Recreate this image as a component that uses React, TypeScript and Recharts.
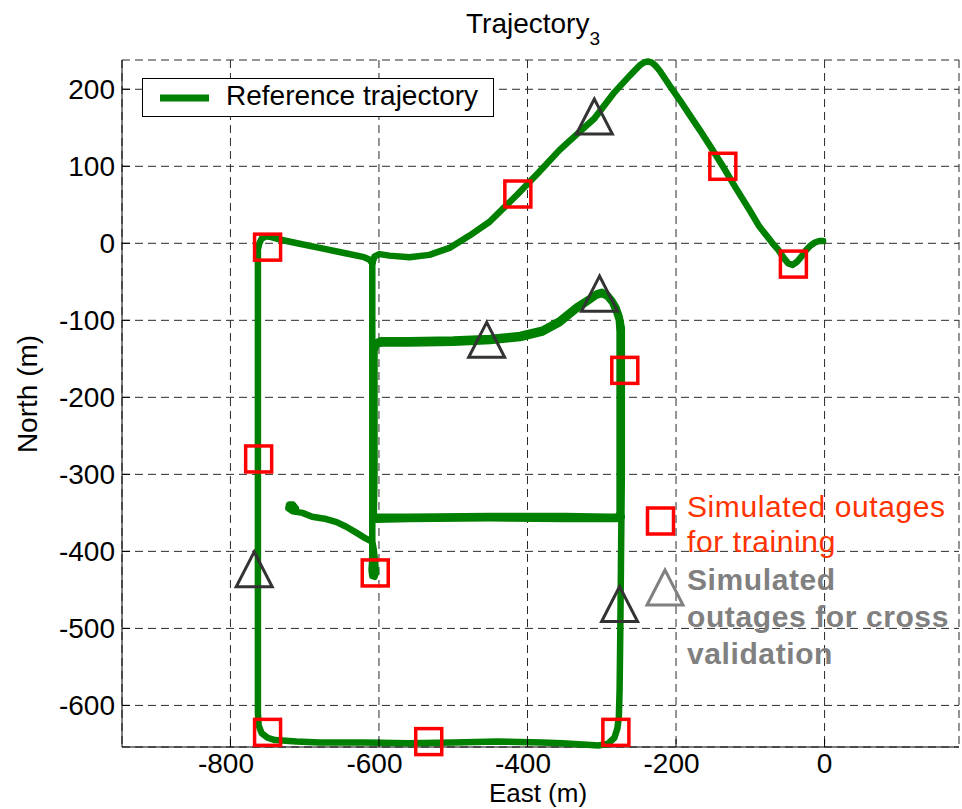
import { ComposedChart, Scatter, XAxis, YAxis, CartesianGrid } from "recharts";

type Pt = [number, number];

// vehicle path pieces, [east, north] in metres
const approachPath: Pt[] = [
  [-2, 3], [-7, 3], [-13, 1], [-19, -3], [-25, -9], [-31, -17], [-37, -24], [-43, -28],
  [-49, -26], [-55, -19], [-62, -9], [-70, 0], [-79, 11], [-88, 22], [-101, 43], [-119, 71],
  [-137, 100], [-152, 123], [-168, 147], [-182, 167], [-195, 186], [-206, 201], [-215, 214],
  [-222, 224], [-228, 231], [-233, 235], [-238, 236], [-243, 235], [-249, 231], [-256, 224],
  [-263, 217], [-283, 196], [-310, 162], [-333, 142], [-357, 121], [-385, 92], [-413, 64],
  [-433, 45], [-451, 28], [-478, 10], [-505, -6], [-532, -15], [-559, -18], [-586, -16],
  [-599, -14], [-606, -17], [-609, -26],
];

const outerLoop: Pt[] = [
  [-609, -26], [-613, -21], [-620, -18], [-650, -12], [-680, -6], [-710, 0], [-734, 5],
  [-745, 8], [-752, 9], [-758, 6], [-761, 0], [-763, -8], [-763, -60], [-763, -200],
  [-763, -350], [-763, -500], [-763, -610], [-762, -626], [-758, -636], [-750, -642],
  [-740, -645], [-711, -647], [-680, -648], [-620, -648], [-560, -649], [-500, -648],
  [-440, -647], [-380, -648], [-353, -649], [-320, -651], [-305, -652], [-292, -650],
  [-283, -642], [-279, -630], [-277, -615], [-276, -580], [-275, -500], [-274, -400],
  [-273, -300], [-273, -200], [-273, -130], [-273, -110], [-276, -95], [-280, -84],
  [-286, -74], [-293, -66], [-300, -63], [-307, -65], [-316, -71], [-334, -82], [-357, -100],
  [-380, -112], [-410, -119], [-450, -123], [-500, -125], [-560, -126], [-598, -126],
  [-605, -129], [-608, -137], [-609, -150],
];

const innerColumn: Pt[] = [
  [-609, -26], [-609, -60], [-609, -126], [-609, -200], [-609, -300], [-609, -355],
  [-609, -387], [-609, -410], [-610, -424], [-609, -432], [-606, -433], [-604, -428],
  [-605, -415], [-607, -398], [-609, -387],
];

const middleCross: Pt[] = [
  [-609, -355], [-560, -355], [-450, -354], [-350, -354], [-290, -355], [-273, -355],
];

const secondLap: Pt[] = [
  [-607, -356], [-606, -300], [-606, -200], [-606, -140], [-603, -131], [-596, -130],
  [-560, -130], [-500, -129], [-450, -127], [-410, -123], [-380, -116], [-357, -104],
  [-334, -86], [-316, -74], [-307, -68], [-300, -66], [-293, -69], [-286, -77], [-281, -88],
  [-277, -100], [-276, -115], [-276, -200], [-276, -300], [-276, -350], [-280, -358],
  [-350, -358], [-450, -357], [-560, -358], [-604, -359], [-607, -356],
];

const westTail: Pt[] = [
  [-712, -344], [-716, -339], [-721, -339], [-722, -344], [-716, -348], [-703, -350],
  [-690, -355], [-671, -358], [-657, -362], [-644, -368], [-630, -376], [-620, -382],
  [-610, -387],
];

const trainingOutages: Pt[] = [
  [-750, -5], [-413, 64], [-137, 100], [-42, -27], [-269, -165], [-762, -280],
  [-605, -428], [-750, -635], [-533, -647], [-281, -635],
];

const validationOutages: Pt[] = [
  [-310, 164], [-455, -126], [-303, -66], [-768, -424], [-276, -469],
];

const eastTicks = [-800, -600, -400, -200, 0];
const northTicks = [200, 100, 0, -100, -200, -300, -400, -500, -600];
const eastDomain: [number, number] = [-946, 181];
const northDomain: [number, number] = [-654, 238];

const toRows = (pts: Pt[]) => pts.map(([east, north]) => ({ east, north }));

const FONT = '"Liberation Sans", Arial, Helvetica, sans-serif';
const GREEN = "#008000";
const TICK_LEN = 8;
const X_LABEL_GAP = 26;

const pathLine = {
  stroke: GREEN,
  strokeWidth: 6.5,
  strokeLinejoin: "round" as const,
  strokeLinecap: "round" as const,
};

const NoDot = () => <g />;

const TrainingMark = (p: any) => (
  <rect x={p.cx - 13} y={p.cy - 13} width={26} height={26} fill="none" stroke="#ff0000" strokeWidth={3.5} />
);

const ValidationMark = (p: any) => (
  <polygon
    points={`${p.cx},${p.cy - 18} ${p.cx - 18},${p.cy + 17} ${p.cx + 18},${p.cy + 17}`}
    fill="none"
    stroke="#333333"
    strokeWidth={3}
  />
);

// ticks point into the plot box on every side
const BottomTick = (props: any) => {
  const { x, y, payload } = props;
  const axisY = y - X_LABEL_GAP;
  const v = payload.value;
  return (
    <g>
      <line x1={x} x2={x} y1={axisY} y2={axisY - TICK_LEN} stroke="#000" />
      <text x={v < 0 ? x - 4.5 : x} y={y} textAnchor="middle" fontSize={28} fontFamily={FONT} fill="#000">
        {v}
      </text>
    </g>
  );
};

const TopTick = (props: any) => {
  const { x, y } = props;
  return <line x1={x} x2={x} y1={y} y2={y + TICK_LEN} stroke="#000" />;
};

const LeftTick = (props: any) => {
  const { x, y, payload } = props;
  return (
    <g>
      <line x1={x + 7} x2={x + 7 + TICK_LEN} y1={y} y2={y} stroke="#000" />
      <text x={x} y={y + 10} textAnchor="end" fontSize={28} fontFamily={FONT} fill="#000">
        {payload.value}
      </text>
    </g>
  );
};

const RightTick = (props: any) => {
  const { x, y } = props;
  return <line x1={x - TICK_LEN} x2={x} y1={y} y2={y} stroke="#000" />;
};

export default function App() {
  return (
    <div style={{ position: "absolute", left: 0, top: 0, width: 962, height: 809, background: "#fff" }}>
      <ComposedChart width={962} height={809} margin={{ top: 60, right: 3, bottom: 0, left: 0 }}>
        <CartesianGrid stroke="#2a2a2a" strokeDasharray="8 5" />
        <XAxis
          type="number"
          dataKey="east"
          domain={eastDomain}
          ticks={eastTicks}
          interval={0}
          height={62}
          tickSize={0}
          tickMargin={X_LABEL_GAP}
          tickLine={false}
          axisLine={{ stroke: "#000" }}
          tick={<BottomTick />}
        />
        <XAxis
          xAxisId="top"
          orientation="top"
          type="number"
          domain={eastDomain}
          allowDataOverflow
          ticks={eastTicks}
          interval={0}
          height={0}
          tickSize={0}
          tickMargin={0}
          tickLine={false}
          axisLine={{ stroke: "#000" }}
          tick={<TopTick />}
        />
        <YAxis
          type="number"
          dataKey="north"
          domain={northDomain}
          ticks={northTicks}
          interval={0}
          width={122}
          tickSize={0}
          tickMargin={7}
          tickLine={false}
          axisLine={{ stroke: "#000" }}
          tick={<LeftTick />}
        />
        <YAxis
          yAxisId="right"
          orientation="right"
          type="number"
          domain={northDomain}
          allowDataOverflow
          ticks={northTicks}
          interval={0}
          width={0}
          tickSize={0}
          tickMargin={0}
          tickLine={false}
          axisLine={{ stroke: "#000" }}
          tick={<RightTick />}
        />
        <Scatter data={toRows(outerLoop)} line={pathLine} lineJointType="linear" shape={NoDot} isAnimationActive={false} />
        <Scatter data={toRows(innerColumn)} line={pathLine} lineJointType="linear" shape={NoDot} isAnimationActive={false} />
        <Scatter data={toRows(middleCross)} line={pathLine} lineJointType="linear" shape={NoDot} isAnimationActive={false} />
        <Scatter data={toRows(secondLap)} line={pathLine} lineJointType="linear" shape={NoDot} isAnimationActive={false} />
        <Scatter data={toRows(westTail)} line={pathLine} lineJointType="linear" shape={NoDot} isAnimationActive={false} />
        <Scatter data={toRows(approachPath)} line={pathLine} lineJointType="linear" shape={NoDot} isAnimationActive={false} />
        <Scatter data={toRows(validationOutages)} shape={ValidationMark} isAnimationActive={false} />
        <Scatter data={toRows(trainingOutages)} shape={TrainingMark} isAnimationActive={false} />
      </ComposedChart>

      <svg
        width={962}
        height={809}
        style={{ position: "absolute", left: 0, top: 0, pointerEvents: "none" }}
        fontFamily={FONT}
      >
        <text x={466} y={33} fontSize={28} fill="#000">
          Trajectory
          <tspan fontSize={19} dy={12}>3</tspan>
        </text>
        <text x={538} y={802} fontSize={26} textAnchor="middle" fill="#000">
          East (m)
        </text>
        <text x={37} y={394} fontSize={28} textAnchor="middle" fill="#000" transform="rotate(-90 37 394)">
          North (m)
        </text>

        <rect x={142.5} y={78.5} width={351} height={38} fill="#fff" stroke="#000" strokeWidth={1} />
        <line x1={160} x2={209} y1={98} y2={98} stroke={GREEN} strokeWidth={7} />
        <text x={226} y={105} fontSize={28} fill="#000">
          Reference trajectory
        </text>

        <rect x={647.5} y={508} width={26} height={26} fill="none" stroke="#ff0000" strokeWidth={3.5} />
        <text x={687} y={517} fontSize={30} letterSpacing={0.6} fill="#ff3300">
          Simulated outages
        </text>
        <text x={687} y={552} fontSize={30} letterSpacing={0.6} fill="#ff3300">
          for training
        </text>

        <polygon points="665,570 647,605 683,605" fill="none" stroke="#808080" strokeWidth={3} />
        <text x={687} y={590} fontSize={30} letterSpacing={0.6} fontWeight="bold" fill="#808080">
          Simulated
        </text>
        <text x={687} y={627} fontSize={30} letterSpacing={0.6} fontWeight="bold" fill="#808080">
          outages for cross
        </text>
        <text x={687} y={664} fontSize={30} letterSpacing={0.6} fontWeight="bold" fill="#808080">
          validation
        </text>
      </svg>
    </div>
  );
}
